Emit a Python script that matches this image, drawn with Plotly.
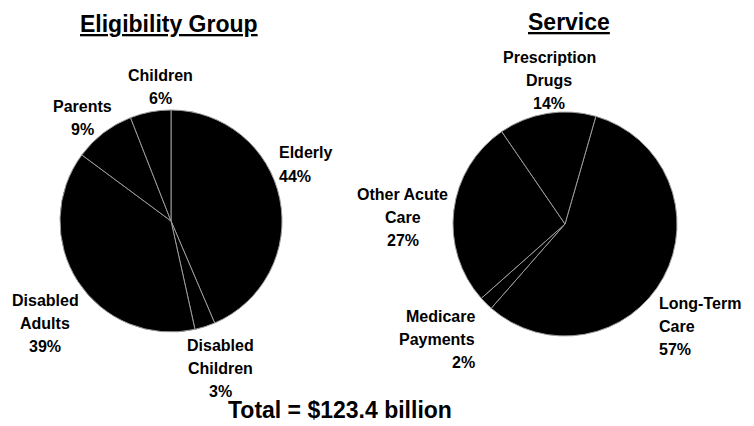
import plotly.graph_objects as go

W, H = 754, 426

# ---- data ----
elig_labels = ["Elderly", "Disabled Children", "Disabled Adults", "Parents", "Children"]
elig_values = [44, 3, 39, 9, 6]
elig_text_lines = [["Elderly"], ["Disabled", "Children"], ["Disabled", "Adults"], ["Parents"], ["Children"]]

serv_labels = ["Long-Term Care", "Medicare Payments", "Other Acute Care", "Prescription Drugs"]
serv_values = [57, 2, 27, 14]
serv_text_lines = [["Long-Term", "Care"], ["Medicare", "Payments"], ["Other Acute", "Care"], ["Prescription", "Drugs"]]

total_text = "Total = $123.4 billion"
titles = ["Eligibility Group", "Service"]

# ---- layout helpers (pixel positions) ----
FONT = "Arial, Liberation Sans, sans-serif"
LINE = 23

def px(x):
    return x / W

def py(y):
    return 1 - y / H

# label anchor: (x, y of first line, xanchor)
elig_pos = [(277, 153, "left"), (220, 345, "center"), (45, 300, "center"), (82, 107, "center"), (160, 75, "center")]
serv_pos = [(657, 303, "left"), (477, 316, "right"), (403, 194, "center"), (549, 58, "center")]

annotations = []

def add_labels(lines_list, values, positions):
    for lines, v, (x, y, xa) in zip(lines_list, values, positions):
        all_lines = lines + [f"{v}%"]
        for i, t in enumerate(all_lines):
            annotations.append(dict(
                x=px(x), y=py(y + i * LINE), xref="paper", yref="paper",
                text=f"<b>{t}</b>", showarrow=False, xanchor=xa, yanchor="middle",
                font=dict(family=FONT, size=16, color="black")))

add_labels(elig_text_lines, elig_values, elig_pos)
add_labels(serv_text_lines, serv_values, serv_pos)

for t, (x, y) in zip(titles, [(169, 24), (569, 22)]):
    annotations.append(dict(
        x=px(x), y=py(y), xref="paper", yref="paper",
        text=f"<b><u>{t}</u></b>", showarrow=False, xanchor="center", yanchor="middle",
        font=dict(family=FONT, size=23, color="black")))

annotations.append(dict(
    x=px(340), y=py(410), xref="paper", yref="paper",
    text=f"<b>{total_text}</b>", showarrow=False, xanchor="center", yanchor="middle",
    font=dict(family=FONT, size=23, color="black")))

fig = go.Figure()
fig.add_trace(go.Pie(
    labels=elig_labels, values=elig_values, sort=False, direction="clockwise", rotation=0,
    textinfo="none", hoverinfo="label+percent", showlegend=False,
    marker=dict(colors=["black"] * len(elig_values), line=dict(color="#9a9a9a", width=1)),
    domain=dict(x=[px(60), px(282)], y=[py(332), py(110)])))
fig.add_trace(go.Pie(
    labels=serv_labels, values=serv_values, sort=False, direction="clockwise", rotation=16,
    textinfo="none", hoverinfo="label+percent", showlegend=False,
    marker=dict(colors=["black"] * len(serv_values), line=dict(color="#9a9a9a", width=1)),
    domain=dict(x=[px(453), px(677)], y=[py(336), py(112)])))

fig.update_layout(
    width=W, height=H, margin=dict(l=0, r=0, t=0, b=0),
    paper_bgcolor="white", plot_bgcolor="white",
    annotations=annotations)

fig.write_html("out.html", config={"displayModeBar": False},
               post_script="document.body.style.margin='0';document.body.style.overflow='hidden';")
